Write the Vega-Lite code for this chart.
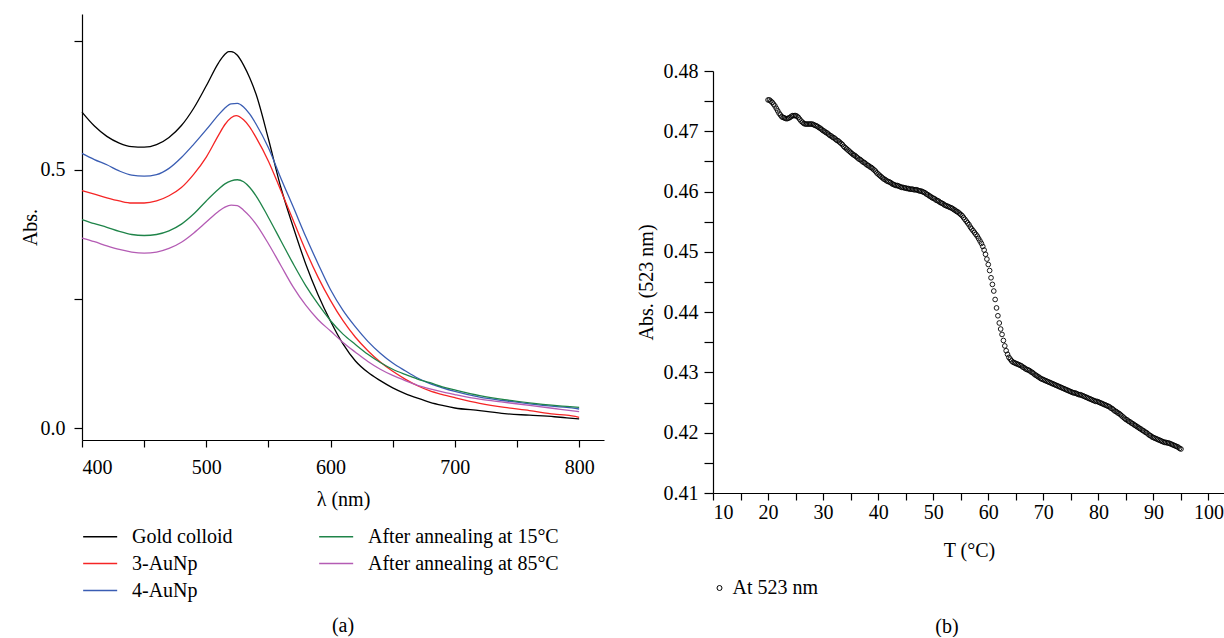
{
"$schema": "https://vega.github.io/schema/vega-lite/v6.json",
"padding": {"left": 20, "top": 14, "right": 0, "bottom": 0},
"background": "white",
"config": {
 "font": "Liberation Serif",
 "view": {"stroke": null},
 "axis": {"labelFont": "Liberation Serif", "titleFont": "Liberation Serif", "labelFontSize": 20, "titleFontSize": 20, "titleFontWeight": "normal", "labelColor": "black", "titleColor": "black", "domainColor": "black", "tickColor": "black", "grid": false, "domainWidth": 1.2, "tickWidth": 1.2, "tickSize": 7},
 "legend": {"labelFont": "Liberation Serif", "labelFontSize": 20, "labelColor": "black", "labelLimit": 400, "padding": 0},
 "title": {"font": "Liberation Serif", "fontSize": 20, "fontWeight": "normal", "color": "black"}
},
"spacing": 32,
"resolve": {"scale": {"color": "independent", "shape": "independent"}, "legend": {"color": "independent", "shape": "independent"}},
"hconcat": [
 {
  "width": 522, "height": 426,
  "title": {"text": "(a)", "orient": "bottom", "offset": 15},
  "data": {"values": [
{"s":"Gold colloid","w":400,"a":0.612},{"s":"Gold colloid","w":410,"a":0.585},{"s":"Gold colloid","w":420,"a":0.565},{"s":"Gold colloid","w":430,"a":0.552},{"s":"Gold colloid","w":440,"a":0.545},{"s":"Gold colloid","w":450,"a":0.544},{"s":"Gold colloid","w":460,"a":0.549},{"s":"Gold colloid","w":470,"a":0.563},{"s":"Gold colloid","w":480,"a":0.586},{"s":"Gold colloid","w":490,"a":0.620},{"s":"Gold colloid","w":500,"a":0.663},{"s":"Gold colloid","w":510,"a":0.708},{"s":"Gold colloid","w":515,"a":0.724},{"s":"Gold colloid","w":518,"a":0.729},{"s":"Gold colloid","w":520,"a":0.729},{"s":"Gold colloid","w":525,"a":0.722},{"s":"Gold colloid","w":530,"a":0.703},{"s":"Gold colloid","w":535,"a":0.678},{"s":"Gold colloid","w":540,"a":0.647},{"s":"Gold colloid","w":550,"a":0.560},{"s":"Gold colloid","w":560,"a":0.466},{"s":"Gold colloid","w":570,"a":0.389},{"s":"Gold colloid","w":580,"a":0.318},{"s":"Gold colloid","w":590,"a":0.258},{"s":"Gold colloid","w":600,"a":0.207},{"s":"Gold colloid","w":610,"a":0.163},{"s":"Gold colloid","w":620,"a":0.130},{"s":"Gold colloid","w":630,"a":0.108},{"s":"Gold colloid","w":640,"a":0.092},{"s":"Gold colloid","w":650,"a":0.078},{"s":"Gold colloid","w":660,"a":0.067},{"s":"Gold colloid","w":670,"a":0.058},{"s":"Gold colloid","w":680,"a":0.050},{"s":"Gold colloid","w":690,"a":0.044},{"s":"Gold colloid","w":700,"a":0.039},{"s":"Gold colloid","w":720,"a":0.034},{"s":"Gold colloid","w":740,"a":0.028},{"s":"Gold colloid","w":760,"a":0.025},{"s":"Gold colloid","w":780,"a":0.022},{"s":"Gold colloid","w":790,"a":0.020},{"s":"Gold colloid","w":800,"a":0.018},
{"s":"4-AuNp","w":400,"a":0.532},{"s":"4-AuNp","w":410,"a":0.520},{"s":"4-AuNp","w":420,"a":0.510},{"s":"4-AuNp","w":430,"a":0.498},{"s":"4-AuNp","w":440,"a":0.490},{"s":"4-AuNp","w":450,"a":0.488},{"s":"4-AuNp","w":460,"a":0.491},{"s":"4-AuNp","w":470,"a":0.503},{"s":"4-AuNp","w":480,"a":0.524},{"s":"4-AuNp","w":490,"a":0.550},{"s":"4-AuNp","w":500,"a":0.578},{"s":"4-AuNp","w":510,"a":0.607},{"s":"4-AuNp","w":515,"a":0.620},{"s":"4-AuNp","w":520,"a":0.628},{"s":"4-AuNp","w":525,"a":0.629},{"s":"4-AuNp","w":530,"a":0.622},{"s":"4-AuNp","w":535,"a":0.608},{"s":"4-AuNp","w":540,"a":0.589},{"s":"4-AuNp","w":550,"a":0.543},{"s":"4-AuNp","w":560,"a":0.484},{"s":"4-AuNp","w":570,"a":0.428},{"s":"4-AuNp","w":580,"a":0.371},{"s":"4-AuNp","w":590,"a":0.318},{"s":"4-AuNp","w":600,"a":0.268},{"s":"4-AuNp","w":610,"a":0.228},{"s":"4-AuNp","w":620,"a":0.196},{"s":"4-AuNp","w":630,"a":0.168},{"s":"4-AuNp","w":640,"a":0.145},{"s":"4-AuNp","w":650,"a":0.126},{"s":"4-AuNp","w":660,"a":0.111},{"s":"4-AuNp","w":670,"a":0.097},{"s":"4-AuNp","w":680,"a":0.086},{"s":"4-AuNp","w":690,"a":0.078},{"s":"4-AuNp","w":700,"a":0.071},{"s":"4-AuNp","w":720,"a":0.060},{"s":"4-AuNp","w":740,"a":0.053},{"s":"4-AuNp","w":760,"a":0.047},{"s":"4-AuNp","w":780,"a":0.042},{"s":"4-AuNp","w":790,"a":0.040},{"s":"4-AuNp","w":800,"a":0.037},
{"s":"3-AuNp","w":400,"a":0.460},{"s":"3-AuNp","w":410,"a":0.453},{"s":"3-AuNp","w":420,"a":0.446},{"s":"3-AuNp","w":430,"a":0.440},{"s":"3-AuNp","w":440,"a":0.436},{"s":"3-AuNp","w":450,"a":0.436},{"s":"3-AuNp","w":460,"a":0.440},{"s":"3-AuNp","w":470,"a":0.450},{"s":"3-AuNp","w":480,"a":0.466},{"s":"3-AuNp","w":490,"a":0.492},{"s":"3-AuNp","w":500,"a":0.525},{"s":"3-AuNp","w":510,"a":0.568},{"s":"3-AuNp","w":515,"a":0.588},{"s":"3-AuNp","w":520,"a":0.601},{"s":"3-AuNp","w":524,"a":0.605},{"s":"3-AuNp","w":530,"a":0.597},{"s":"3-AuNp","w":535,"a":0.583},{"s":"3-AuNp","w":540,"a":0.563},{"s":"3-AuNp","w":550,"a":0.517},{"s":"3-AuNp","w":560,"a":0.460},{"s":"3-AuNp","w":570,"a":0.402},{"s":"3-AuNp","w":580,"a":0.344},{"s":"3-AuNp","w":590,"a":0.292},{"s":"3-AuNp","w":600,"a":0.247},{"s":"3-AuNp","w":610,"a":0.208},{"s":"3-AuNp","w":620,"a":0.176},{"s":"3-AuNp","w":630,"a":0.150},{"s":"3-AuNp","w":640,"a":0.128},{"s":"3-AuNp","w":650,"a":0.110},{"s":"3-AuNp","w":660,"a":0.095},{"s":"3-AuNp","w":670,"a":0.082},{"s":"3-AuNp","w":680,"a":0.072},{"s":"3-AuNp","w":690,"a":0.065},{"s":"3-AuNp","w":700,"a":0.059},{"s":"3-AuNp","w":720,"a":0.048},{"s":"3-AuNp","w":740,"a":0.040},{"s":"3-AuNp","w":760,"a":0.034},{"s":"3-AuNp","w":780,"a":0.027},{"s":"3-AuNp","w":790,"a":0.025},{"s":"3-AuNp","w":800,"a":0.021},
{"s":"After annealing at 15°C","w":400,"a":0.404},{"s":"After annealing at 15°C","w":410,"a":0.396},{"s":"After annealing at 15°C","w":420,"a":0.389},{"s":"After annealing at 15°C","w":430,"a":0.381},{"s":"After annealing at 15°C","w":440,"a":0.375},{"s":"After annealing at 15°C","w":450,"a":0.373},{"s":"After annealing at 15°C","w":460,"a":0.375},{"s":"After annealing at 15°C","w":470,"a":0.382},{"s":"After annealing at 15°C","w":480,"a":0.395},{"s":"After annealing at 15°C","w":490,"a":0.415},{"s":"After annealing at 15°C","w":500,"a":0.440},{"s":"After annealing at 15°C","w":510,"a":0.463},{"s":"After annealing at 15°C","w":515,"a":0.473},{"s":"After annealing at 15°C","w":520,"a":0.479},{"s":"After annealing at 15°C","w":525,"a":0.481},{"s":"After annealing at 15°C","w":530,"a":0.477},{"s":"After annealing at 15°C","w":535,"a":0.466},{"s":"After annealing at 15°C","w":540,"a":0.450},{"s":"After annealing at 15°C","w":550,"a":0.408},{"s":"After annealing at 15°C","w":560,"a":0.363},{"s":"After annealing at 15°C","w":570,"a":0.318},{"s":"After annealing at 15°C","w":580,"a":0.276},{"s":"After annealing at 15°C","w":590,"a":0.240},{"s":"After annealing at 15°C","w":600,"a":0.208},{"s":"After annealing at 15°C","w":610,"a":0.182},{"s":"After annealing at 15°C","w":620,"a":0.162},{"s":"After annealing at 15°C","w":630,"a":0.143},{"s":"After annealing at 15°C","w":640,"a":0.127},{"s":"After annealing at 15°C","w":650,"a":0.114},{"s":"After annealing at 15°C","w":660,"a":0.104},{"s":"After annealing at 15°C","w":670,"a":0.095},{"s":"After annealing at 15°C","w":680,"a":0.088},{"s":"After annealing at 15°C","w":690,"a":0.080},{"s":"After annealing at 15°C","w":700,"a":0.074},{"s":"After annealing at 15°C","w":720,"a":0.063},{"s":"After annealing at 15°C","w":740,"a":0.055},{"s":"After annealing at 15°C","w":760,"a":0.049},{"s":"After annealing at 15°C","w":780,"a":0.044},{"s":"After annealing at 15°C","w":790,"a":0.042},{"s":"After annealing at 15°C","w":800,"a":0.040},
{"s":"After annealing at 85°C","w":400,"a":0.368},{"s":"After annealing at 85°C","w":410,"a":0.361},{"s":"After annealing at 85°C","w":420,"a":0.353},{"s":"After annealing at 85°C","w":430,"a":0.346},{"s":"After annealing at 85°C","w":440,"a":0.341},{"s":"After annealing at 85°C","w":450,"a":0.339},{"s":"After annealing at 85°C","w":460,"a":0.341},{"s":"After annealing at 85°C","w":470,"a":0.348},{"s":"After annealing at 85°C","w":480,"a":0.360},{"s":"After annealing at 85°C","w":490,"a":0.378},{"s":"After annealing at 85°C","w":500,"a":0.399},{"s":"After annealing at 85°C","w":510,"a":0.420},{"s":"After annealing at 85°C","w":515,"a":0.428},{"s":"After annealing at 85°C","w":520,"a":0.432},{"s":"After annealing at 85°C","w":525,"a":0.431},{"s":"After annealing at 85°C","w":530,"a":0.422},{"s":"After annealing at 85°C","w":535,"a":0.410},{"s":"After annealing at 85°C","w":540,"a":0.395},{"s":"After annealing at 85°C","w":550,"a":0.357},{"s":"After annealing at 85°C","w":560,"a":0.315},{"s":"After annealing at 85°C","w":570,"a":0.273},{"s":"After annealing at 85°C","w":580,"a":0.238},{"s":"After annealing at 85°C","w":590,"a":0.210},{"s":"After annealing at 85°C","w":600,"a":0.188},{"s":"After annealing at 85°C","w":610,"a":0.166},{"s":"After annealing at 85°C","w":620,"a":0.147},{"s":"After annealing at 85°C","w":630,"a":0.129},{"s":"After annealing at 85°C","w":640,"a":0.114},{"s":"After annealing at 85°C","w":650,"a":0.102},{"s":"After annealing at 85°C","w":660,"a":0.092},{"s":"After annealing at 85°C","w":670,"a":0.083},{"s":"After annealing at 85°C","w":680,"a":0.076},{"s":"After annealing at 85°C","w":690,"a":0.070},{"s":"After annealing at 85°C","w":700,"a":0.065},{"s":"After annealing at 85°C","w":720,"a":0.056},{"s":"After annealing at 85°C","w":740,"a":0.050},{"s":"After annealing at 85°C","w":760,"a":0.044},{"s":"After annealing at 85°C","w":780,"a":0.038},{"s":"After annealing at 85°C","w":790,"a":0.035},{"s":"After annealing at 85°C","w":800,"a":0.032}
  ]},
  "mark": {"type": "line", "strokeWidth": 1.3, "interpolate": "monotone"},
  "encoding": {
   "x": {"field": "w", "type": "quantitative", "scale": {"domain": [400, 820], "nice": false, "zero": false},
         "axis": {"title": "λ (nm)", "values": [400,450,500,550,600,650,700,750,800], "labelExpr": "datum.value % 100 === 0 ? datum.label : ''", "labelPadding": 10, "titlePadding": 12}},
   "y": {"field": "a", "type": "quantitative", "scale": {"domain": [-0.023, 0.802], "nice": false, "zero": false},
         "axis": {"title": "Abs.", "values": [0, 0.25, 0.5, 0.75], "labelExpr": "datum.value === 0 || datum.value === 0.5 ? format(datum.value, '.1f') : ''", "tickSize": 8, "labelPadding": 9, "titlePadding": 0}},
   "color": {"field": "s", "type": "nominal",
     "scale": {"domain": ["Gold colloid", "After annealing at 15°C", "3-AuNp", "After annealing at 85°C", "4-AuNp"], "range": ["#000000", "#1f8449", "#f52525", "#b45cb4", "#3a5db3"]},
     "legend": {"title": null, "orient": "bottom", "columns": 2, "symbolType": "M-1,0H2", "symbolSize": 514, "symbolStrokeWidth": 1.5, "rowPadding": 4, "columnPadding": 83, "labelOffset": 25, "offset": 15}}
  }
 },
 {
  "spacing": 20,
  "resolve": {"scale": {"shape": "independent"}, "legend": {"shape": "independent"}},
  "vconcat": [
   {
    "width": 512, "height": 26.5,
    "data": {"values": [{}]},
    "mark": {"type": "point", "opacity": 0},
    "encoding": {}
   },
   {
    "width": 512, "height": 422,
    "title": {"text": "(b)", "orient": "bottom", "anchor": "middle", "offset": 19, "dx": -22},
    "data": {"values": [
{"t":20,"a":0.4752},{"t":20.25,"a":0.4752},{"t":20.5,"a":0.4750},{"t":20.75,"a":0.4748},{"t":21,"a":0.4745},{"t":21.25,"a":0.4742},{"t":21.5,"a":0.4738},{"t":21.75,"a":0.4734},{"t":22,"a":0.4730},{"t":22.25,"a":0.4727},{"t":22.5,"a":0.4724},{"t":22.75,"a":0.4723},{"t":23,"a":0.4722},{"t":23.25,"a":0.4721},{"t":23.5,"a":0.4721},{"t":23.75,"a":0.4722},{"t":24,"a":0.4723},{"t":24.25,"a":0.4725},{"t":24.5,"a":0.4726},{"t":24.75,"a":0.4726},{"t":25,"a":0.4726},{"t":25.25,"a":0.4725},{"t":25.5,"a":0.4723},{"t":25.75,"a":0.4720},{"t":26,"a":0.4717},{"t":26.25,"a":0.4715},{"t":26.5,"a":0.4713},{"t":26.75,"a":0.4712},{"t":27,"a":0.4712},{"t":27.25,"a":0.4712},{"t":27.5,"a":0.4712},{"t":27.75,"a":0.4712},{"t":28,"a":0.4712},{"t":28.25,"a":0.4711},{"t":28.5,"a":0.4710},{"t":28.75,"a":0.4709},{"t":29,"a":0.4708},{"t":29.25,"a":0.4706},{"t":29.5,"a":0.4705},{"t":29.75,"a":0.4703},
{"t":30,"a":0.4701},{"t":30.25,"a":0.4700},{"t":30.5,"a":0.4698},{"t":30.75,"a":0.4697},{"t":31,"a":0.4695},{"t":31.25,"a":0.4693},{"t":31.5,"a":0.4692},{"t":31.75,"a":0.4690},{"t":32,"a":0.4689},{"t":32.25,"a":0.4687},{"t":32.5,"a":0.4685},{"t":32.75,"a":0.4684},{"t":33,"a":0.4682},{"t":33.25,"a":0.4680},{"t":33.5,"a":0.4678},{"t":33.75,"a":0.4675},{"t":34,"a":0.4673},{"t":34.25,"a":0.4671},{"t":34.5,"a":0.4669},{"t":34.75,"a":0.4667},{"t":35,"a":0.4665},{"t":35.25,"a":0.4663},{"t":35.5,"a":0.4661},{"t":35.75,"a":0.4660},{"t":36,"a":0.4658},{"t":36.25,"a":0.4656},{"t":36.5,"a":0.4654},{"t":36.75,"a":0.4653},{"t":37,"a":0.4651},{"t":37.25,"a":0.4649},{"t":37.5,"a":0.4648},{"t":37.75,"a":0.4646},{"t":38,"a":0.4644},{"t":38.25,"a":0.4643},{"t":38.5,"a":0.4641},{"t":38.75,"a":0.4640},{"t":39,"a":0.4638},{"t":39.25,"a":0.4636},{"t":39.5,"a":0.4634},{"t":39.75,"a":0.4631},
{"t":40,"a":0.4629},{"t":40.25,"a":0.4627},{"t":40.5,"a":0.4625},{"t":40.75,"a":0.4623},{"t":41,"a":0.4621},{"t":41.25,"a":0.4620},{"t":41.5,"a":0.4618},{"t":41.75,"a":0.4617},{"t":42,"a":0.4616},{"t":42.25,"a":0.4615},{"t":42.5,"a":0.4613},{"t":42.75,"a":0.4612},{"t":43,"a":0.4611},{"t":43.25,"a":0.4610},{"t":43.5,"a":0.4610},{"t":43.75,"a":0.4609},{"t":44,"a":0.4608},{"t":44.25,"a":0.4607},{"t":44.5,"a":0.4607},{"t":44.75,"a":0.4606},{"t":45,"a":0.4606},{"t":45.25,"a":0.4605},{"t":45.5,"a":0.4605},{"t":45.75,"a":0.4604},{"t":46,"a":0.4604},{"t":46.25,"a":0.4604},{"t":46.5,"a":0.4603},{"t":46.75,"a":0.4603},{"t":47,"a":0.4603},{"t":47.25,"a":0.4602},{"t":47.5,"a":0.4601},{"t":47.75,"a":0.4601},{"t":48,"a":0.4600},{"t":48.25,"a":0.4599},{"t":48.5,"a":0.4598},{"t":48.75,"a":0.4596},{"t":49,"a":0.4595},{"t":49.25,"a":0.4593},{"t":49.5,"a":0.4592},{"t":49.75,"a":0.4590},
{"t":50,"a":0.4589},{"t":50.25,"a":0.4588},{"t":50.5,"a":0.4586},{"t":50.75,"a":0.4585},{"t":51,"a":0.4584},{"t":51.25,"a":0.4582},{"t":51.5,"a":0.4581},{"t":51.75,"a":0.4580},{"t":52,"a":0.4578},{"t":52.25,"a":0.4577},{"t":52.5,"a":0.4576},{"t":52.75,"a":0.4575},{"t":53,"a":0.4574},{"t":53.25,"a":0.4573},{"t":53.5,"a":0.4572},{"t":53.75,"a":0.4570},{"t":54,"a":0.4569},{"t":54.25,"a":0.4567},{"t":54.5,"a":0.4566},{"t":54.75,"a":0.4564},{"t":55,"a":0.4562},{"t":55.25,"a":0.4560},{"t":55.5,"a":0.4557},{"t":55.75,"a":0.4554},{"t":56,"a":0.4551},{"t":56.25,"a":0.4548},{"t":56.5,"a":0.4545},{"t":56.75,"a":0.4541},{"t":57,"a":0.4538},{"t":57.25,"a":0.4535},{"t":57.5,"a":0.4532},{"t":57.75,"a":0.4529},{"t":58,"a":0.4526},{"t":58.25,"a":0.4522},{"t":58.5,"a":0.4518},{"t":58.75,"a":0.4514},{"t":59,"a":0.4509},{"t":59.25,"a":0.4503},{"t":59.5,"a":0.4496},{"t":59.75,"a":0.4488},
{"t":60,"a":0.4479},{"t":60.25,"a":0.4469},{"t":60.5,"a":0.4457},{"t":60.75,"a":0.4446},{"t":61,"a":0.4435},{"t":61.25,"a":0.4421},{"t":61.5,"a":0.4407},{"t":61.75,"a":0.4394},{"t":62,"a":0.4382},{"t":62.25,"a":0.4372},{"t":62.5,"a":0.4363},{"t":62.75,"a":0.4353},{"t":63,"a":0.4344},{"t":63.25,"a":0.4336},{"t":63.5,"a":0.4330},{"t":63.75,"a":0.4325},{"t":64,"a":0.4322},{"t":64.25,"a":0.4319},{"t":64.5,"a":0.4317},{"t":64.75,"a":0.4316},{"t":65,"a":0.4315},{"t":65.25,"a":0.4314},{"t":65.5,"a":0.4313},{"t":65.75,"a":0.4312},{"t":66,"a":0.4311},{"t":66.25,"a":0.4309},{"t":66.5,"a":0.4308},{"t":66.75,"a":0.4306},{"t":67,"a":0.4305},{"t":67.25,"a":0.4304},{"t":67.5,"a":0.4303},{"t":67.75,"a":0.4301},{"t":68,"a":0.4300},{"t":68.25,"a":0.4298},{"t":68.5,"a":0.4296},{"t":68.75,"a":0.4295},{"t":69,"a":0.4293},{"t":69.25,"a":0.4292},{"t":69.5,"a":0.4290},{"t":69.75,"a":0.4289},
{"t":70,"a":0.4288},{"t":70.25,"a":0.4287},{"t":70.5,"a":0.4286},{"t":70.75,"a":0.4285},{"t":71,"a":0.4284},{"t":71.25,"a":0.4283},{"t":71.5,"a":0.4282},{"t":71.75,"a":0.4281},{"t":72,"a":0.4280},{"t":72.25,"a":0.4279},{"t":72.5,"a":0.4278},{"t":72.75,"a":0.4277},{"t":73,"a":0.4276},{"t":73.25,"a":0.4275},{"t":73.5,"a":0.4274},{"t":73.75,"a":0.4273},{"t":74,"a":0.4272},{"t":74.25,"a":0.4271},{"t":74.5,"a":0.4270},{"t":74.75,"a":0.4269},{"t":75,"a":0.4268},{"t":75.25,"a":0.4267},{"t":75.5,"a":0.4266},{"t":75.75,"a":0.4266},{"t":76,"a":0.4265},{"t":76.25,"a":0.4264},{"t":76.5,"a":0.4263},{"t":76.75,"a":0.4263},{"t":77,"a":0.4262},{"t":77.25,"a":0.4261},{"t":77.5,"a":0.4260},{"t":77.75,"a":0.4259},{"t":78,"a":0.4258},{"t":78.25,"a":0.4257},{"t":78.5,"a":0.4256},{"t":78.75,"a":0.4255},{"t":79,"a":0.4254},{"t":79.25,"a":0.4253},{"t":79.5,"a":0.4252},{"t":79.75,"a":0.4252},
{"t":80,"a":0.4251},{"t":80.25,"a":0.4250},{"t":80.5,"a":0.4249},{"t":80.75,"a":0.4248},{"t":81,"a":0.4247},{"t":81.25,"a":0.4246},{"t":81.5,"a":0.4245},{"t":81.75,"a":0.4244},{"t":82,"a":0.4243},{"t":82.25,"a":0.4241},{"t":82.5,"a":0.4240},{"t":82.75,"a":0.4238},{"t":83,"a":0.4236},{"t":83.25,"a":0.4235},{"t":83.5,"a":0.4233},{"t":83.75,"a":0.4232},{"t":84,"a":0.4230},{"t":84.25,"a":0.4228},{"t":84.5,"a":0.4226},{"t":84.75,"a":0.4224},{"t":85,"a":0.4222},{"t":85.25,"a":0.4221},{"t":85.5,"a":0.4219},{"t":85.75,"a":0.4218},{"t":86,"a":0.4216},{"t":86.25,"a":0.4215},{"t":86.5,"a":0.4213},{"t":86.75,"a":0.4212},{"t":87,"a":0.4210},{"t":87.25,"a":0.4209},{"t":87.5,"a":0.4207},{"t":87.75,"a":0.4206},{"t":88,"a":0.4204},{"t":88.25,"a":0.4203},{"t":88.5,"a":0.4201},{"t":88.75,"a":0.4200},{"t":89,"a":0.4198},{"t":89.25,"a":0.4196},{"t":89.5,"a":0.4195},{"t":89.75,"a":0.4193},
{"t":90,"a":0.4192},{"t":90.25,"a":0.4191},{"t":90.5,"a":0.4190},{"t":90.75,"a":0.4189},{"t":91,"a":0.4188},{"t":91.25,"a":0.4187},{"t":91.5,"a":0.4186},{"t":91.75,"a":0.4185},{"t":92,"a":0.4184},{"t":92.25,"a":0.4184},{"t":92.5,"a":0.4183},{"t":92.75,"a":0.4183},{"t":93,"a":0.4182},{"t":93.25,"a":0.4181},{"t":93.5,"a":0.4180},{"t":93.75,"a":0.4179},{"t":94,"a":0.4178},{"t":94.25,"a":0.4177},{"t":94.5,"a":0.4176},{"t":94.75,"a":0.4174},{"t":95,"a":0.4173}
    ]},
    "mark": {"type": "point", "shape": "circle", "filled": false, "color": "black", "strokeWidth": 0.9, "size": 22, "opacity": 1},
    "encoding": {
     "x": {"field": "t", "type": "quantitative", "scale": {"domain": [10, 103], "nice": false, "zero": false},
           "axis": {"title": "T (°C)", "values": [10,15,20,25,30,35,40,45,50,55,60,65,70,75,80,85,90,95,100], "labelExpr": "datum.value % 10 === 0 ? datum.label : ''", "labelPadding": 2, "titlePadding": 18}},
     "y": {"field": "a", "type": "quantitative", "scale": {"domain": [0.41, 0.48], "nice": false, "zero": false},
           "axis": {"title": "Abs. (523 nm)", "values": [0.41,0.415,0.42,0.425,0.43,0.435,0.44,0.445,0.45,0.455,0.46,0.465,0.47,0.475,0.48], "labelExpr": "abs(datum.value * 100 - round(datum.value * 100)) < 0.000001 ? format(datum.value, '.2f') : ''", "tickSize": 9, "labelPadding": 6, "titlePadding": 7}},
     "shape": {"datum": "At 523 nm", "type": "nominal", "scale": {"range": ["circle"]},
       "legend": {"title": null, "orient": "bottom", "symbolSize": 25, "symbolStrokeColor": "black", "symbolFillColor": "white", "symbolStrokeWidth": 1, "symbolOffset": -3.5, "labelOffset": 3, "offset": 18}}
    }
   }
  ]
 }
]
}
